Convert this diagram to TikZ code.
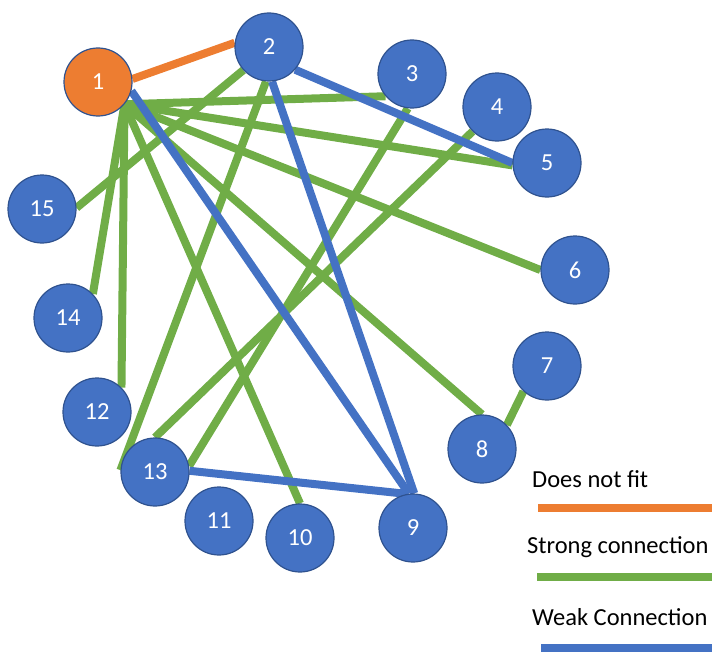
\documentclass[tikz,border=0pt]{standalone}
\usepackage{fontspec}
\setmainfont{Carlito}
\usetikzlibrary{backgrounds}
\definecolor{nodeblue}{HTML}{4472C4}
\definecolor{rimblue}{HTML}{2F528F}
\definecolor{linkorange}{HTML}{ED7D31}
\definecolor{linkgreen}{HTML}{70AD47}
\definecolor{linkblue}{HTML}{4472C4}
\begin{document}
\begin{tikzpicture}[x=1pt,y=-1pt,
  vertex/.style={circle, minimum size=68pt, inner sep=0pt, fill=nodeblue,
    draw=rimblue, line width=1.2pt, text=white,
    font=\fontsize{24.5}{24.5}\selectfont},
  misfit/.style={vertex, fill=linkorange},
  link/.style={line width=8pt},
  strong/.style={link, draw=linkgreen},
  weak/.style={link, draw=linkblue},
  nofit/.style={link, draw=linkorange},
  legendtext/.style={anchor=base west, inner sep=0pt, text=black,
    font=\fontsize{24.5}{24.5}\selectfont}]
\useasboundingbox (0,0) rectangle (712,661);

% people
\node[misfit] (n1) at (98,82) {1};
\node[vertex] (n2) at (269,47) {2};
\node[vertex] (n3) at (412,74) {3};
\node[vertex] (n4) at (497,107) {4};
\node[vertex] (n5) at (547,163) {5};
\node[vertex] (n6) at (575,270) {6};
\node[vertex] (n7) at (547,366) {7};
\node[vertex] (n8) at (482,449) {8};
\node[vertex] (n9) at (413,528) {9};
\node[vertex] (n10) at (300,538) {10};
\node[vertex] (n11) at (219,521) {11};
\node[vertex] (n12) at (97,412) {12};
\node[vertex] (n13) at (155,472) {13};
\node[vertex] (n14) at (68,318) {14};
\node[vertex] (n15) at (42,209) {15};

% connections, kept behind the circles
\begin{scope}[on background layer]
  \draw[nofit] (n1.5) -- (n2.173);

  \draw[strong] (n1.-40) -- (n3.220);
  \draw[strong] (n1.-40) -- (n5.184);
  \draw[strong] (n1.-40) -- (n6.180);
  \draw[strong] (n1.-40) -- (n8.90);
  \draw[strong] (n1.-40) -- (n10.90);
  \draw[strong] (n1.-40) -- (n12.45);
  \draw[strong] (n1.-40) -- (n14.44);
  \draw[strong] (n2.222) -- (n15.2);
  \draw[strong] (n2.-95) -- (n13.177);
  \draw[strong] (n3.-97) -- (n13.10);
  \draw[strong] (n4.225) -- (n13.90);
  \draw[strong] (n7.227) -- (n8.44);

  \draw[weak] (n1.-15) -- (n9.97);
  \draw[weak] (n2.-85) -- (n9.88);
  \draw[weak] (n2.-41) -- (n5.180);
  \draw[weak] (n13.2) -- (n9.100);
\end{scope}

% legend
\node[legendtext] (lfit) at (532,487) {Does not fit};
\node[legendtext] (lstrong) at (527,553) {Strong connection};
\node[legendtext] (lweak) at (532,625) {Weak Connection};
\coordinate (fitA) at (538,508);
\coordinate (fitB) at (712,508);
\coordinate (strongA) at (537,577);
\coordinate (strongB) at (712,577);
\coordinate (weakA) at (541,648);
\coordinate (weakB) at (712,648);
\draw[nofit] (fitA) -- (fitB);
\draw[strong] (strongA) -- (strongB);
\draw[weak] (weakA) -- (weakB);
\end{tikzpicture}
\end{document}
